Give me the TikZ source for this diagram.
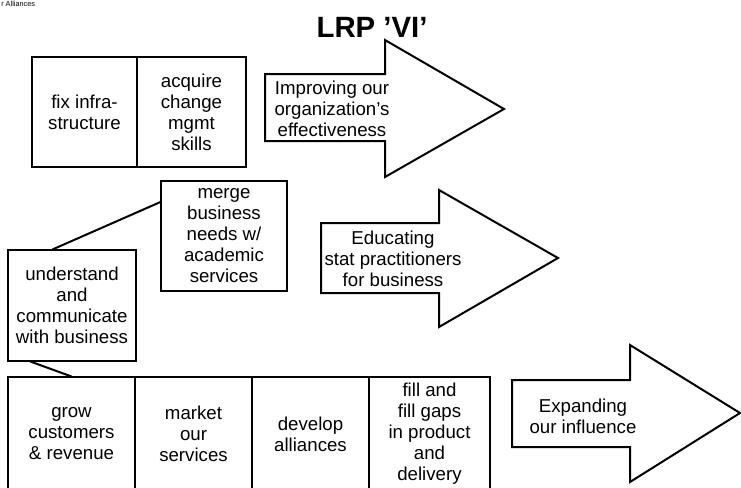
\documentclass[tikz,border=0pt]{standalone}
\usepackage{fontspec}
\setmainfont{Liberation Sans}

\tikzset{
  box/.style={draw, line width=0.8pt, align=center, inner sep=0pt, font=\fontsize{14}{15.75}\selectfont},
  bigarrow/.style={draw, line width=1.5pt, line join=miter},
  arrowtext/.style={align=center, inner sep=0pt, font=\fontsize{14}{15.75}\selectfont},
  link/.style={line width=1.5pt}
}

\begin{document}
\begin{tikzpicture}[x=0.75pt,y=-0.75pt]
  \useasboundingbox (0,0) rectangle (741,487);
  \node[anchor=north west, inner sep=0pt, font=\fontsize{5.5}{5.5}\selectfont] (note) at (1,0.5) {r Alliances};
  \node[font=\fontsize{22}{22}\selectfont\bfseries] (title) at (372,27) {LRP ’VI’};
  % top row
  \node[box, minimum width=78.75pt, minimum height=82.5pt] (fix) at (84.5,112) {fix infra-\\structure};
  \node[box, minimum width=81.75pt, minimum height=82.5pt] (acq) at (191.5,112) {acquire\\change\\mgmt\\skills};
  % middle
  \node[box, minimum width=94.5pt, minimum height=82.5pt] (mrg) at (224,236) {merge\\business\\needs w/\\academic\\services};
  \node[box, minimum width=96pt, minimum height=83.25pt] (und) at (72,305.5) {understand\\and\\communicate\\with business};
  % bottom row
  \node[box, minimum width=95.25pt, minimum height=85.5pt] (grow) at (71.5,434) {grow\\customers\\\& revenue};
  \node[box, minimum width=87.75pt, minimum height=85.5pt] (mkt) at (193.5,434) {market\\our\\services};
  \node[box, minimum width=87.75pt, minimum height=85.5pt] (dev) at (310.5,434) {develop\\alliances};
  \node[box, minimum width=90.75pt, minimum height=85.5pt] (gaps) at (429.5,434) {fill and\\fill gaps\\in product\\and\\delivery};
  \draw[link] ([xshift=33.75pt]und.north west) -- ([yshift=25.5pt]mrg.west);
  \draw[link] ([xshift=17.25pt]und.south west) -- ([xshift=48pt]grow.north west);
  % big arrows
  \draw[bigarrow] (265,74) -- (385,74) -- (385,40) -- (504,109) -- (385,177) -- (385,141) -- (265,141) -- cycle;
  \node[arrowtext] (imp) at (332,109) {Improving our\\organization’s\\effectiveness};
  \draw[bigarrow] (321,223) -- (439,223) -- (439,190) -- (558,258) -- (439,327) -- (439,293) -- (321,293) -- cycle;
  \node[arrowtext] (edu) at (393,259) {Educating\\stat practitioners\\for business};
  \draw[bigarrow] (512,380) -- (630,380) -- (630,345) -- (740,413) -- (630,482) -- (630,447) -- (512,447) -- cycle;
  \node[arrowtext] (exp) at (583,416) {Expanding\\our influence};
\end{tikzpicture}
\end{document}
